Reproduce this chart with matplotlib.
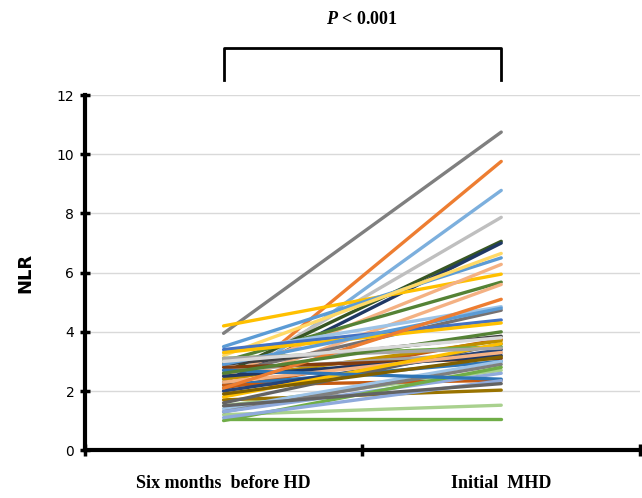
import matplotlib
matplotlib.use('Agg')
import matplotlib.pyplot as plt

plt.rcParams['mathtext.fontset'] = 'custom'
plt.rcParams['mathtext.it'] = 'Liberation Serif:italic:bold'

categories = ['Six months  before HD', 'Initial  MHD']

before = [3.95, 2.0, 2.0, 2.4, 2.6, 2.3, 4.2, 3.5, 3.2, 2.5, 3.0, 2.2,
          3.3, 2.6, 3.4, 3.3, 2.9, 2.1, 2.4, 3.1, 2.7, 2.8, 2.2, 2.5,
          1.5, 2.2, 1.7, 1.2, 1.05, 2.0, 1.4, 1.3, 1.6, 1.3, 1.0, 2.3,
          2.9, 1.8, 3.1, 2.7, 1.9, 2.1, 1.1, 2.6, 3.0, 1.5]
after = [10.75, 9.76, 8.78, 7.87, 7.06, 7.0, 5.95, 6.5, 6.65, 6.28, 5.68, 5.6,
         4.85, 4.73, 4.4, 4.3, 3.85, 3.75, 3.7, 3.5, 3.3, 3.1, 3.0, 3.2,
         2.7, 2.36, 2.03, 1.52, 1.05, 3.4, 3.0, 2.9, 3.6, 2.6, 2.8, 3.3,
         4.8, 3.6, 3.45, 2.4, 3.15, 5.1, 2.35, 4.0, 3.8, 2.25]
colors = ['#7F7F7F', '#ED7D31', '#7CAFDD', '#BFBFBF', '#375623', '#1F3864',
          '#FFC000', '#5B9BD5', '#FFD966', '#F4B183', '#548235', '#F4B183',
          '#9DC3E6', '#767171', '#4472C4', '#FFC000', '#404040', '#C55A11',
          '#BF9000', '#70AD47', '#A5A5A5', '#843C0C', '#2E75B6', '#203864',
          '#A9D18E', '#C55A11', '#997300', '#A9D18E', '#70AD47', '#264478',
          '#9DC3E6', '#7F7F7F', '#636363', '#8FAADC', '#70AD47', '#F4B183',
          '#5B9BD5', '#FFC000', '#A5A5A5', '#2E75B6', '#806000', '#ED7D31',
          '#8FAADC', '#548235', '#D9D9D9', '#636363']

fig = plt.figure(figsize=(6.42, 4.98), dpi=100)
ax = fig.add_axes([0.132, 0.096, 0.865, 0.713])

for b, a, c in zip(before, after, colors):
    ax.plot([1, 2], [b, a], color=c, lw=2.4, solid_capstyle='round')

ax.set_xlim(0.5, 2.5)
ax.set_ylim(0, 12)
ax.set_yticks(range(0, 13, 2))
ax.set_xticks([0.5, 1.5, 2.5])
ax.set_xticklabels([])
ax.set_xticks([1, 2], minor=True)
ax.set_xticklabels(categories, minor=True, fontfamily='Liberation Serif',
                   fontweight='bold', fontsize=13)
ax.tick_params(axis='x', which='minor', length=0, pad=18)
ax.tick_params(axis='x', which='major', direction='inout', length=8, width=2.5)
ax.tick_params(axis='y', direction='inout', length=7, width=2.5, labelsize=10, pad=4)
ax.yaxis.grid(True, color='#D9D9D9', lw=1)
ax.set_axisbelow(True)
for s in ['top', 'right']:
    ax.spines[s].set_visible(False)
for s in ['left', 'bottom']:
    ax.spines[s].set_linewidth(3)
ax.set_ylabel('NLR', fontsize=13, fontweight='bold', labelpad=16)

# significance bracket
ax.plot([1, 1, 2, 2], [12.5, 13.6, 13.6, 12.5], color='black', lw=2, clip_on=False)
ax.text(1.5, 14.55, r'$\mathit{P}$' + ' < 0.001', ha='center', va='center',
        fontfamily='Liberation Serif', fontweight='bold', fontsize=13)

fig.savefig('out.png', dpi=100)
